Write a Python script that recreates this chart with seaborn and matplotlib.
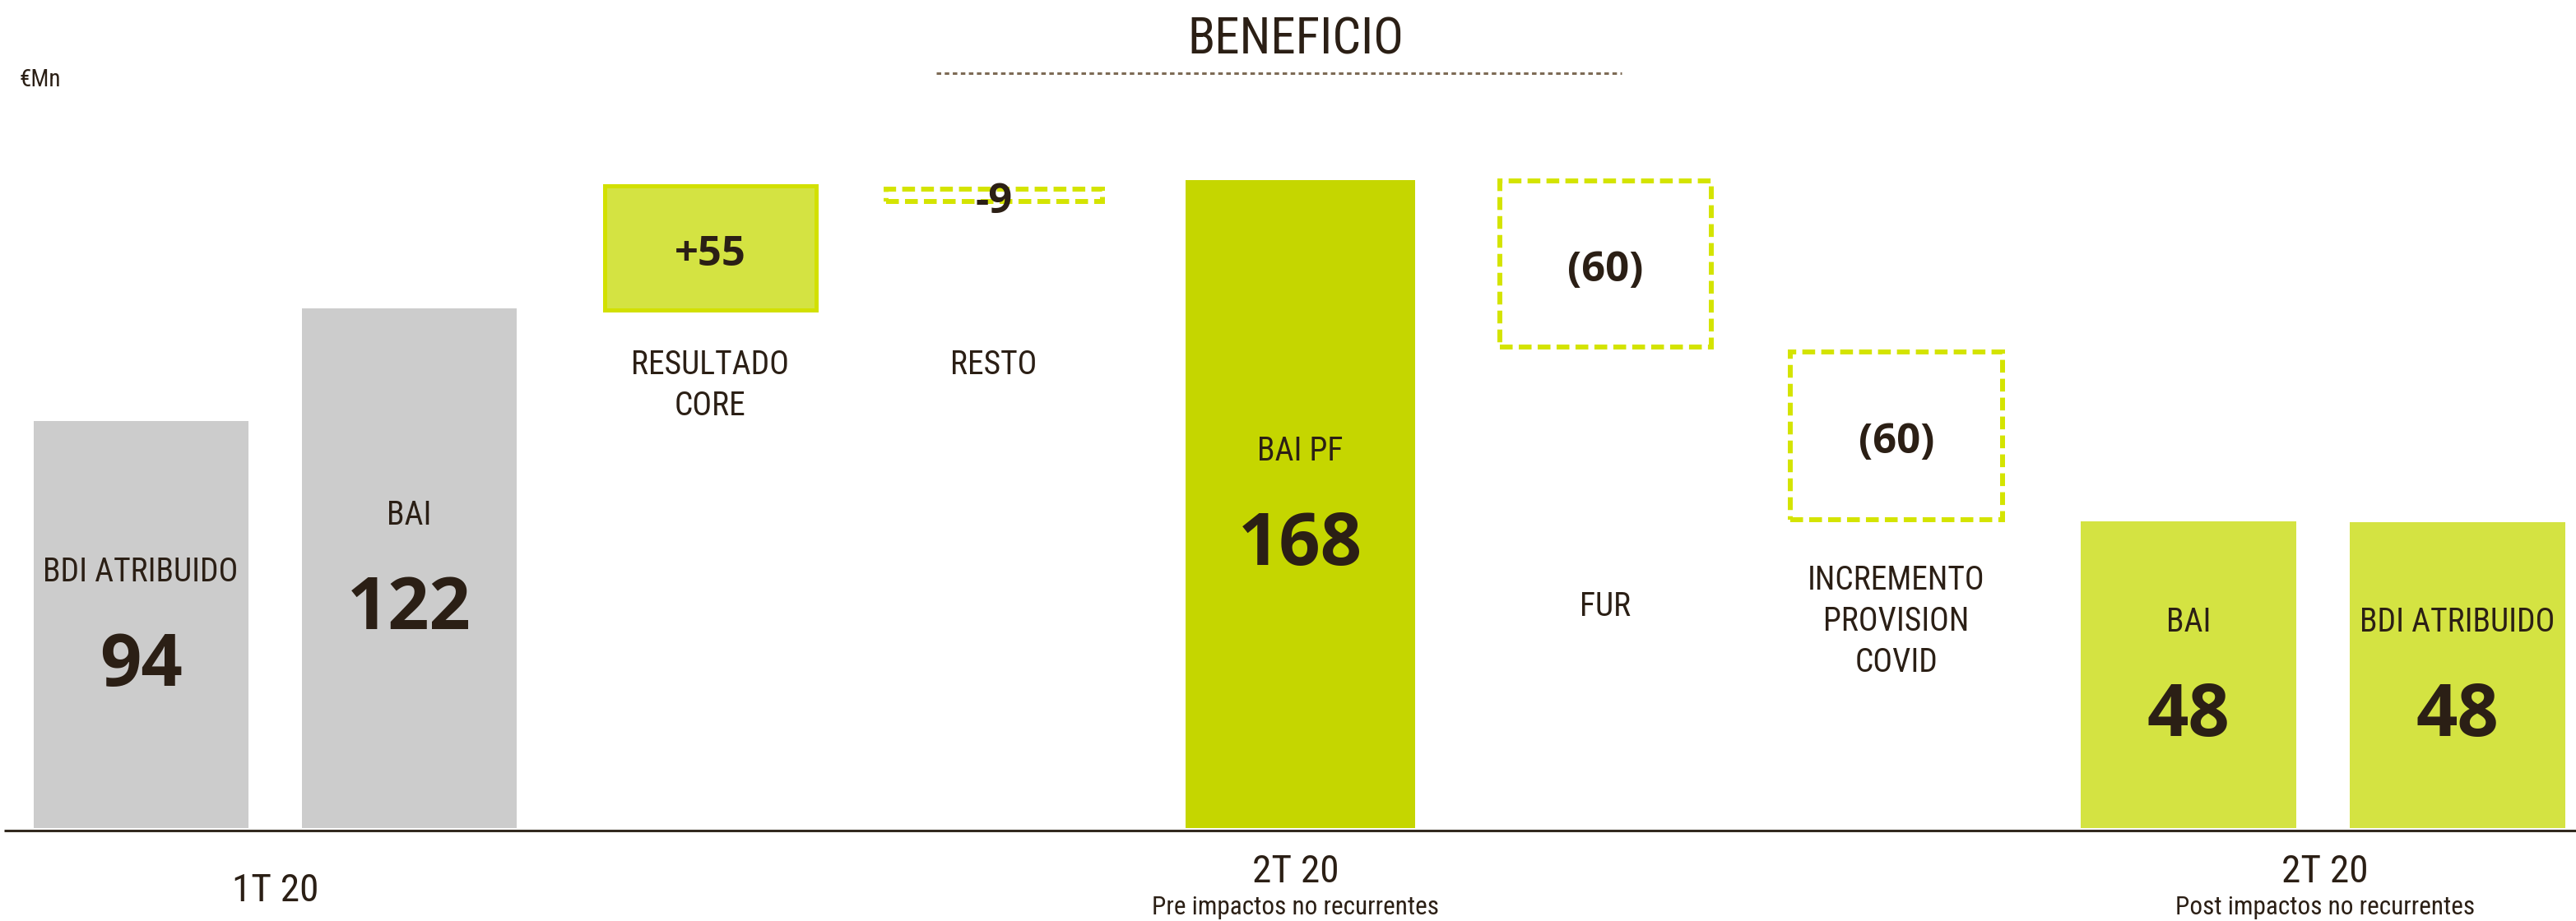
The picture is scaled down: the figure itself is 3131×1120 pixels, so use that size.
import matplotlib
matplotlib.use("Agg")
import matplotlib.pyplot as plt
from matplotlib import font_manager as fm
import seaborn as sns
import pandas as pd
import numpy as np

# ---------------- data ----------------
categories = ["BDI ATRIBUIDO", "BAI", "RESULTADO\nCORE", "RESTO", "BAI PF", "FUR",
              "INCREMENTO\nPROVISION\nCOVID", "BAI", "BDI ATRIBUIDO"]
value_labels = ["94", "122", "+55", "-9", "168", "(60)", "(60)", "48", "48"]
# drawn extents of every bar/box, in chart units above the baseline
bar_bottoms = [0, 0, 630, 762, 0, 585, 375, 0, 0]
bar_tops = [495, 632, 781, 777, 788, 787, 579, 373, 372]
bar_kinds = ["q1", "q1", "up", "down", "pre", "down", "down", "post", "post"]
period_labels = ["1T 20", "2T 20", "2T 20"]
period_subtitles = ["", "Pre impactos no recurrentes", "Post impactos no recurrentes"]
title_text = "BENEFICIO"
unit_text = "€Mn"

# ---------------- layout ----------------
W, H = 3131, 1120
BASE = 1007
x_centers = [171, 497, 863, 1208, 1580, 1951, 2305, 2660, 2987]
x_widths = [262, 260, 257, 263, 279, 257, 258, 261, 262]
period_x = [335, 1575, 2826]
float_label_px = {2: 441, 3: 441, 5: 735, 6: 703}
LINE_STEP = 50

# ---------------- style ----------------
TEXT = "#2b1f15"
COL = {"q1": "#cccccc", "pre": "#c5d600", "post": "#d4e342"}
UP_FACE, UP_EDGE = "#d4e342", "#d2e000"
DASH = "#d4e400"
BASELINE_COL = "#32291f"
DOT_COL = "#7d6b55"

sns.set_theme(style="white")

label_fp = None
for fam in ["Roboto Condensed", "Liberation Sans Narrow", "Liberation Sans"]:
    try:
        fm.findfont(fm.FontProperties(family=fam), fallback_to_default=False)
        label_fp = fm.FontProperties(family=[fam, "DejaVu Sans"])
        break
    except Exception:
        continue
if label_fp is None:
    label_fp = fm.FontProperties(family="DejaVu Sans")
num_fp = fm.FontProperties(family=["Open Sans", "DejaVu Sans"], weight="bold")

fig = plt.figure(figsize=(W / 100, H / 100), dpi=100)
ax = fig.add_axes([0, 0, 1, 1])


def Y(px):
    return BASE - px


df = pd.DataFrame({"x": x_centers, "top": bar_tops, "bottom": bar_bottoms,
                   "kind": bar_kinds, "w": x_widths})

for kind in ["q1", "pre", "post"]:
    sub = df[df.kind == kind]
    u = np.unique(sub.x.values)
    native = np.min(np.diff(u)) if len(u) > 1 else 1
    sns.barplot(data=sub, x="x", y="top", native_scale=True, orient="x",
                width=sub.w.mean() / native, color=COL[kind], saturation=1,
                linewidth=0, edgecolor="none", errorbar=None, ax=ax, zorder=2)

for i, r in df.iterrows():
    if r.kind == "up":
        ax.bar(r.x, r.top - r.bottom, bottom=r.bottom, width=r.w, color=UP_FACE,
               edgecolor=UP_EDGE, linewidth=3.6, zorder=2)
    elif r.kind == "down":
        bars = ax.bar(r.x, r.top - r.bottom, bottom=r.bottom, width=r.w, fill=False,
                      edgecolor=DASH, linewidth=4.3, linestyle=(0, (2.6, 1.25)), zorder=2)
        for b in bars:
            b.set_joinstyle("miter")
            b.set_capstyle("butt")

ax.plot([5, W], [Y(1010), Y(1010)], color=BASELINE_COL, lw=2.2, solid_capstyle="butt", zorder=1)


def put(x, px_center, s, size, fp, capr=0.712):
    cap = size * capr * 100 / 72
    f = fp.copy()
    f.set_size(size)
    ax.text(x, Y(px_center + cap / 2), s, ha="center", va="baseline",
            fontproperties=f, color=TEXT, zorder=5)


LBL = 28.5
for i, r in df.iterrows():
    lines = categories[i].split("\n")
    top_px, bot_px = BASE - r.top, BASE - r.bottom
    mid = (top_px + bot_px) / 2
    if r.kind in ("q1", "pre", "post"):
        put(r.x, mid - 67, categories[i], LBL, label_fp)
        put(r.x, mid + 43, value_labels[i], 63.5, num_fp, 0.714)
    else:
        put(r.x, mid + 3, value_labels[i], 36.5, num_fp, 0.714)
        for k, ln in enumerate(lines):
            put(r.x, float_label_px[i] + k * LINE_STEP, ln, LBL, label_fp)

period_centre_px = [1079, 1056, 1056]
for x, lab, sub, cp in zip(period_x, period_labels, period_subtitles, period_centre_px):
    put(x, cp, lab, 34, label_fp)
    if sub:
        put(x, 1101, sub, 22.5, label_fp)

put(1575, 44, title_text, 44, label_fp)
ax.plot([1138, 1971], [Y(89), Y(89)], color=DOT_COL, lw=2.2,
        linestyle=(0, (1.8, 1.4)), dash_capstyle="butt", zorder=3)

uf = label_fp.copy()
uf.set_size(21)
ax.text(24, Y(95 + 10), unit_text, ha="left", va="baseline", fontproperties=uf, color=TEXT)

ax.set_xlim(0, W)
ax.set_ylim(Y(H), Y(0))
ax.axis("off")

fig.savefig("out.png", dpi=100, facecolor="white")
